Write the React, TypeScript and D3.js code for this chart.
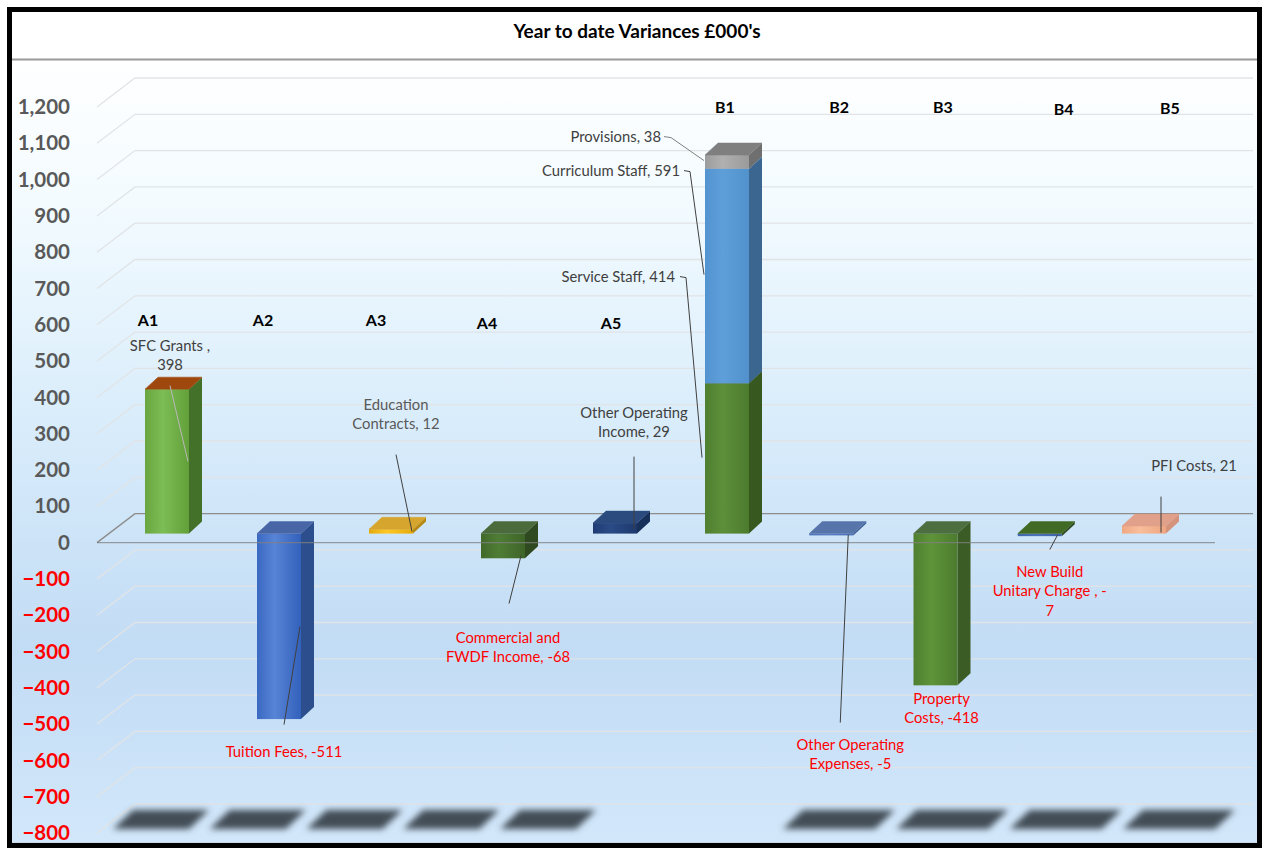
import React from "react";
import * as d3 from "d3";

// ---------- data ----------
const title = "Year to date Variances £000's";
const categories = ["A1", "A2", "A3", "A4", "A5", "B1", "B2", "B3", "B4", "B5"];
const seriesNames = [
  "SFC Grants",
  "Tuition Fees",
  "Education Contracts",
  "Commercial and FWDF Income",
  "Other Operating Income",
  "",
  "Other Operating Expenses",
  "Property Costs",
  "New Build Unitary Charge",
  "PFI Costs",
];
const seriesValues = [398, -511, 12, -68, 29, 0, -5, -418, -7, 21];
const b1Names = ["Service Staff", "Curriculum Staff", "Provisions"];
const b1Values = [414, 591, 38];
const yTickValues = d3.range(-800, 1201, 100);

// ---------- styles ----------
type Pal = { front: string[]; side: string; top: string };
const palettes: Record<string, Pal> = {
  sfc: { front: ["#69a540", "#7dbd55", "#62a03a"], side: "#44712a", top: "#9e480e" },
  tuition: { front: ["#3a69c2", "#5884d6", "#3261bb"], side: "#2d4e8c", top: "#4865a6" },
  edu: { front: ["#e2a90e", "#ffc823", "#e5aa0c"], side: "#b58a12", top: "#d6a52e" },
  comm: { front: ["#41692a", "#4f7d35", "#3e6428"], side: "#2f4a20", top: "#4c6b3c" },
  ooi: { front: ["#1f3c75", "#2a4b86", "#1d386e"], side: "#17305a", top: "#2b4a7e" },
  service: { front: ["#4f7f30", "#5d8f3a", "#4c7b2e"], side: "#37581f", top: "#4b6f38" },
  curric: { front: ["#5393cf", "#5e9fda", "#5191cc"], side: "#3b6690", top: "#6aa3d8" },
  prov: { front: ["#9c9c9c", "#b0b0b0", "#9a9a9a"], side: "#6f6f6f", top: "#7f7f7f" },
  ooe: { front: ["#4c74bc", "#5a80c6", "#4870b8"], side: "#3c5c94", top: "#5775aa" },
  prop: { front: ["#4f7f30", "#5f9439", "#4c7b2e"], side: "#3c5c25", top: "#4d6e3f" },
  nbuc: { front: ["#3f67b0", "#4a72bb", "#3d64ab"], side: "#2f4a20", top: "#416a24" },
  pfi: { front: ["#f0a883", "#f8bd9b", "#eea681"], side: "#d4937a", top: "#e0a08a" },
};
const catPalette = ["sfc", "tuition", "edu", "comm", "ooi", "", "ooe", "prop", "nbuc", "pfi"];
const b1Palette = ["service", "curric", "prov"];

// label layout (offsets from bar centre / bar baseline)
type Lab = { cat: number; lines: string[]; color: string; dx: number; dy: number; anchor?: string; leader?: number[][]; leaderColor?: string };
const RED = "#ff0000";
const DARK = "#404040";
const labelLayout: Lab[] = [
  { cat: 0, lines: ["SFC Grants ,", "398"], color: DARK, dx: 3, dy: -188, leader: [[3, -148], [21, -72]], leaderColor: "#b8b8b8" },
  { cat: 1, lines: ["Tuition Fees, -511"], color: RED, dx: 5, dy: 218, leader: [[5, 191], [21, 93]] },
  { cat: 2, lines: ["Education", "Contracts, 12"], color: "#595959", dx: 5, dy: -129, leader: [[5, -79], [21, -2]] },
  { cat: 3, lines: ["Commercial and", "FWDF Income, -68"], color: RED, dx: 5, dy: 104, leader: [[6, 70], [18, 22]] },
  { cat: 4, lines: ["Other Operating", "Income, 29"], color: DARK, dx: 19, dy: -121, leader: [[19, -77], [19, -4]] },
  { cat: 5, lines: ["Provisions, 38"], color: DARK, dx: -66, dy: -397, anchor: "end", leader: [[-63, -397], [-56, -396], [-23, -373]], leaderColor: "#808080" },
  { cat: 5, lines: ["Curriculum Staff, 591"], color: DARK, dx: -47, dy: -363, anchor: "end", leader: [[-43, -363], [-37, -362], [-23, -259]] },
  { cat: 5, lines: ["Service Staff, 414"], color: DARK, dx: -52, dy: -257, anchor: "end", leader: [[-47, -257], [-41, -256], [-25, -76]] },
  { cat: 6, lines: ["Other Operating", "Expenses, -5"], color: RED, dx: 19, dy: 211, leader: [[9, 189], [17, 1]] },
  { cat: 7, lines: ["Property", "Costs, -418"], color: RED, dx: 6, dy: 165 },
  { cat: 8, lines: ["New Build", "Unitary Charge , -", "7"], color: RED, dx: 10, dy: 38, leader: [[10, 16], [18, 1]] },
  { cat: 9, lines: ["PFI Costs, 21"], color: DARK, dx: 50, dy: -68, leader: [[17, -37], [17, -1]] },
];
const catLabelDx = [-19, -16, -15, -16, -4, -2, 8, 7.5, 24, 26];
const catLabelLevel = [612, 612, 612, 603, 603, 1200, 1200, 1198, 1194, 1196];

// ---------- geometry ----------
const W = 1266;
const H = 851;
const BAR_W = 44;
const DEP_X = 13;
const DEP_Y = -12;
const BACK_DX = 38;
const BACK_DY = -29;
const FRONT_X0 = 97;
const BACK_X1 = 1253;
const FONT = "Lato, 'Open Sans', sans-serif";

const yF = d3.scaleLinear().domain([-800, 1200]).range([833, 107]);
const yBar = (v: number) => yF(v) - 9;
const xBar = d3.scaleLinear().domain([0, 5, 9]).range([145, 705, 1122]);
const xShadow = d3.scaleLinear().domain([0, 4, 6, 9]).range([113, 500, 783, 1123]);

type Seg = { v0: number; v1: number; pal: string; topFace: boolean };

function buildSegments(i: number): Seg[] {
  if (categories[i] === "B1") {
    const stack = d3.stack<any>().keys(b1Names)([Object.fromEntries(b1Names.map((n, k) => [n, b1Values[k]]))]);
    return stack.map((s, k) => ({ v0: s[0][0], v1: s[0][1], pal: b1Palette[k], topFace: true }));
  }
  const v = seriesValues[i];
  return [{ v0: 0, v1: v, pal: catPalette[i], topFace: true }];
}

function Bar3D({ x, seg }: { x: number; seg: Seg }) {
  const p = palettes[seg.pal];
  const ya = yBar(seg.v0);
  const yb = yBar(seg.v1);
  const top = Math.min(ya, yb);
  const bot = Math.max(ya, yb);
  const h = Math.max(bot - top, 0.8);
  const side = `${x + BAR_W},${top} ${x + BAR_W + DEP_X},${top + DEP_Y} ${x + BAR_W + DEP_X},${top + h + DEP_Y} ${x + BAR_W},${top + h}`;
  const topPoly = `${x},${top} ${x + DEP_X},${top + DEP_Y} ${x + BAR_W + DEP_X},${top + DEP_Y} ${x + BAR_W},${top}`;
  return (
    <g>
      <polygon points={side} fill={p.side} />
      <rect x={x} y={top} width={BAR_W} height={h} fill={`url(#g-${seg.pal})`} />
      {seg.topFace && <polygon points={topPoly} fill={p.top} stroke={p.top} strokeWidth={0.5} strokeLinejoin="round" />}
    </g>
  );
}

export default function App() {
  const cx = (i: number) => xBar(i) + BAR_W / 2;
  const base = yBar(0);
  const fmt = d3.format(",");
  const lineH = 19.5;

  return (
    <svg
      width={W}
      height={H}
      style={{ position: "absolute", left: 0, top: 0, background: "#ffffff" }}
      fontFamily={FONT}
    >
      <defs>
        <linearGradient id="plotBg" x1="0" y1="0" x2="0" y2="1">
          <stop offset="0%" stopColor="#ffffff" />
          <stop offset="18%" stopColor="#f3fbff" />
          <stop offset="45%" stopColor="#daedfb" />
          <stop offset="75%" stopColor="#c2dcf5" />
          <stop offset="100%" stopColor="#d2e7fa" />
        </linearGradient>
        {Object.entries(palettes).map(([k, p]) => (
          <linearGradient key={k} id={`g-${k}`} x1="0" y1="0" x2="1" y2="0">
            <stop offset="0%" stopColor={p.front[0]} />
            <stop offset="40%" stopColor={p.front[1]} />
            <stop offset="100%" stopColor={p.front[2]} />
          </linearGradient>
        ))}
        <filter id="blur" x="-20%" y="-80%" width="140%" height="260%">
          <feGaussianBlur stdDeviation="3.2" />
        </filter>
      </defs>

      {/* frame */}
      <rect x={12} y={12} width={1245} height={48} fill="#ffffff" />
      <rect x={12} y={60} width={1245} height={784} fill="url(#plotBg)" />
      <line x1={12} x2={1257} y1={59.5} y2={59.5} stroke="#9a9a9a" strokeWidth={2} />
      <line x1={12} x2={1257} y1={843.5} y2={843.5} stroke="#a8b4bf" strokeWidth={1.5} />
      <rect x={9.5} y={9.5} width={1250} height={836} fill="none" stroke="#000" strokeWidth={5} />

      {/* title */}
      <text x={637} y={31} textAnchor="middle" dy="0.35em" fontSize={19} fontWeight={700} fill="#000">
        {title}
      </text>

      {/* gridlines */}
      {yTickValues.map((v) => (
        <path
          key={v}
          d={`M${FRONT_X0},${yF(v)} L${FRONT_X0 + BACK_DX},${yF(v) + BACK_DY} L${BACK_X1},${yF(v) + BACK_DY}`}
          fill="none"
          stroke={v === 0 ? "#8c8c8c" : "#e1e4e6"}
          strokeWidth={v === 0 ? 1.4 : 1.3}
        />
      ))}

      {/* y tick labels */}
      {yTickValues.map((v) => (
        <text
          key={"t" + v}
          x={70}
          y={yF(v)}
          dy="0.35em"
          textAnchor="end"
          fontSize={20.5}
          fontWeight={700}
          fill={v < 0 ? "#ff0000" : "#595959"}
        >
          {fmt(v)}
        </text>
      ))}

      {/* floor shadows */}
      {categories.map((c, i) => {
        if (c === "B1") return null;
        const l = xShadow(i);
        const w = i < 5 ? 96 : 112;
        return (
          <polygon
            key={"s" + c}
            points={`${l + 20},810 ${l + w},810 ${l + w - 20},829 ${l},829`}
            fill="#434d57"
            filter="url(#blur)"
          />
        );
      })}

      {/* bars */}
      {categories.map((c, i) => (
        <g key={"b" + c}>
          {buildSegments(i).map((s, k) => (
            <Bar3D key={k} x={xBar(i)} seg={s} />
          ))}
        </g>
      ))}

      {/* front zero line */}
      <line x1={FRONT_X0} x2={BACK_X1 - BACK_DX} y1={yF(0)} y2={yF(0)} stroke="#808080" strokeWidth={1.4} opacity={0.75} />

      {/* category labels */}
      {categories.map((c, i) => (
        <text
          key={"c" + c}
          x={cx(i) + catLabelDx[i]}
          y={yF(catLabelLevel[i])}
          dy="0.35em"
          textAnchor="middle"
          fontSize={16}
          fontWeight={700}
          fill="#000"
        >
          {c}
        </text>
      ))}

      {/* data labels */}
      {labelLayout.map((lab, k) => {
        const x0 = cx(lab.cat);
        return (
          <g key={"l" + k}>
            {lab.leader && (
              <polyline
                points={lab.leader.map(([dx, dy]) => `${x0 + dx},${base + dy}`).join(" ")}
                fill="none"
                stroke={lab.leaderColor || "#404040"}
                strokeWidth={1}
              />
            )}
            {lab.lines.map((t, j) => (
              <text
                key={j}
                x={x0 + lab.dx}
                y={base + lab.dy + j * lineH}
                dy="0.35em"
                textAnchor={lab.anchor || "middle"}
                fontSize={14.8}
                fill={lab.color}
              >
                {t}
              </text>
            ))}
          </g>
        );
      })}
    </svg>
  );
}
